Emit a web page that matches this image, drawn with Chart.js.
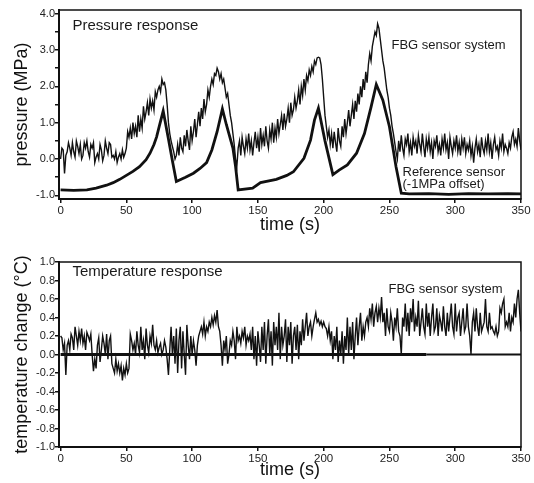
<!DOCTYPE html>
<html>
<head>
<meta charset="utf-8">
<script src="https://cdn.jsdelivr.net/npm/chart.js@4.4.1/dist/chart.umd.min.js"></script>
<style>
  body { margin: 0; background: #fff; }
  canvas { display: block; }
</style>
</head>
<body>
<canvas id="pressureChart" width="534" height="240"></canvas>
<canvas id="tempChart" width="534" height="243"></canvas>
<script>
// ---------------- data ----------------
// FBG samples are every 1 s from t = 0 to 350 s
const sampleStep = 1;
const timeTicks = [0, 50, 100, 150, 200, 250, 300, 350];

const fbgPressure = [
  0.0, 0.3, 0.25, -0.4, 0.1, 0.2, 0.45, 0.3, 0.1, 0.45,
  0.2, 0.05, 0.5, 0.35, 0.15, 0.4, 0.0, 0.1, 0.45, 0.3,
  0.5, 0.2, 0.05, 0.4, 0.3, 0.45, -0.1, 0.05, 0.15, 0.0,
  0.4, 0.25, -0.05, 0.1, 0.5, 0.3, 0.15, 0.45, 0.4, 0.05,
  0.1, 0.0, 0.2, -0.1, 0.05, 0.15, 0.0, 0.25, 0.05, 0.15,
  0.3, 0.75, 0.6, 0.85, 0.55, 1.0, 0.7, 0.9, 0.6, 1.2,
  0.75, 1.1, 0.85, 1.45, 1.1, 1.3, 1.55, 1.2, 1.65, 1.4,
  1.6, 1.35, 1.85, 1.7, 1.9, 2.0, 1.85, 2.2, 2.05, 2.1,
  1.9, 1.5, 1.0, 0.7, 0.5, 0.35, 0.2, 0.0, 0.1, 0.4,
  0.1, 0.6, 0.3, 0.2, 0.65, 0.35, 0.8, 0.5, 0.25, 0.9,
  0.5, 0.75, 1.1, 0.6, 0.95, 1.3, 0.9, 1.4, 1.1, 1.65,
  1.3, 1.5, 1.9, 1.7, 2.0, 2.2, 2.05, 2.35, 2.3, 2.5,
  2.4, 2.2, 2.35, 2.1, 2.2, 1.95, 1.7, 1.8, 1.5, 1.2,
  1.0, 0.7, 0.4, 0.0, -0.2, 0.3, 0.5, 0.1, 0.6, 0.35,
  0.15, 0.55, 0.3, 0.7, 0.25, 0.5, 0.1, 0.45, 0.75, 0.3,
  0.6, 0.2, 0.85, 0.4, 0.65, 0.35, 0.9, 0.5, 0.3, 0.8,
  0.55, 1.0, 0.45, 0.85, 0.6, 1.1, 0.7, 0.95, 1.2, 0.8,
  1.25, 0.9, 1.1, 1.4, 1.0, 1.55, 1.2, 1.35, 1.7, 1.4,
  1.6, 1.9, 1.5, 2.0, 1.75, 2.2, 1.9, 2.3, 2.15, 2.45,
  2.3, 2.55, 2.4, 2.7, 2.6, 2.78, 2.8, 2.78, 2.6, 2.2,
  1.7, 1.2, 0.9, 0.6, 0.8, 0.4, 0.7, 0.3, 0.75, 0.45,
  0.2, 0.85, 0.5, 0.35, 0.9, 0.6, 1.1, 0.7, 1.0, 1.35,
  0.9, 1.2, 1.5, 1.1, 1.6, 1.3, 1.8, 1.5, 2.0, 1.7,
  2.2, 1.9, 2.4, 2.1, 2.6, 2.9, 2.7, 3.1, 3.3, 3.5,
  3.4, 3.72, 3.6, 3.3, 3.0, 2.7, 2.5, 2.2, 1.9, 1.7,
  1.4, 1.2, 0.9, 0.7, 0.45, 0.2, 0.0, 0.5, 0.2, 0.65,
  0.3, 0.1, 0.55, 0.4, 0.7, 0.2, 0.45, 0.1, 0.6, 0.35,
  0.5, 0.15, 0.65, 0.4, 0.2, 0.7, 0.35, 0.05, 0.55, 0.3,
  0.6, 0.2, 0.45, 0.0, 0.5, 0.35, 0.65, 0.2, 0.4, 0.1,
  0.55, 0.3, 0.7, 0.25, 0.45, 0.0, 0.6, 0.35, 0.15, 0.5,
  0.3, 0.65, 0.2, 0.45, 0.1, 0.55, 0.3, 0.6, 0.15, 0.4,
  0.25, 0.5, 0.1, 0.35, -0.1, 0.3, 0.55, 0.2, 0.4, 0.05,
  0.6, 0.3, 0.15, 0.5, 0.25, 0.7, 0.2, 0.45, 0.0, 0.4,
  0.6, 0.25, 0.35, 0.1, 0.5, 0.3, 0.7, 0.2, 0.4, 0.3,
  0.15, 0.45, 0.3, 0.6, 0.75, 0.4, 0.55, 0.35, 0.85, 0.5,
  0.25
];

// reference sensor, drawn with a -1 MPa offset
const refPressureTime = [
  0, 10, 20, 27, 35, 40, 45, 50, 55, 60, 65, 68, 71, 73, 75, 78,
  82, 85, 88, 95, 101, 106, 111, 115, 119, 123, 126, 131, 133, 135,
  146, 152, 164, 172, 177, 185, 190, 193, 196, 201, 207, 212, 218,
  225, 231, 236, 240, 245, 250, 255, 259, 265, 280, 295, 310, 325, 340, 350
];
const refPressure = [
  -0.85, -0.86, -0.85, -0.80, -0.72, -0.65, -0.56, -0.45, -0.34, -0.21, -0.02, 0.16, 0.40, 0.61, 0.90, 1.32,
  0.55, -0.05, -0.62, -0.50, -0.39, -0.26, -0.10, 0.25, 0.75, 1.38, 0.95, 0.30, -0.20, -0.85,
  -0.80, -0.65, -0.56, -0.45, -0.35, 0.02, 0.52, 1.07, 1.40, 0.50, -0.43, -0.30, -0.16,
  0.16, 0.70, 1.43, 2.05, 1.62, 0.89, -0.21, -0.94, -0.96, -0.95, -0.97, -0.95, -0.96, -0.95, -0.96
];

const fbgTemperature = [
  0.2, 0.18, 0.05, 0.12, -0.22, 0.1, 0.15, 0.05, 0.22, 0.18,
  0.05, 0.3, 0.2, 0.1, 0.25, 0.15, 0.28, 0.12, 0.2, 0.05,
  0.24, 0.2, 0.15, 0.22, 0.0, -0.18, -0.05, -0.15, 0.1, 0.18,
  -0.08, 0.05, 0.2, 0.12, 0.0, 0.22, -0.05, 0.15, 0.2, -0.1,
  -0.15, -0.2, -0.05, -0.18, -0.1, -0.2, -0.12, -0.28, -0.15, -0.22,
  -0.1, -0.2, -0.15, 0.22, 0.15, 0.05, 0.12, 0.0, 0.25, 0.1,
  0.02, 0.3, 0.05, 0.15, -0.05, 0.28, 0.1, 0.02, 0.2, 0.12,
  0.32, 0.1, 0.05, 0.15, 0.02, 0.08, 0.12, 0.0, 0.05, 0.15,
  0.08, -0.05, -0.22, 0.05, 0.3, 0.0, 0.2, -0.1, 0.28, -0.2,
  0.15, 0.3, -0.15, 0.25, 0.0, -0.22, 0.32, 0.1, -0.05, 0.2,
  0.0, 0.15, 0.05, -0.12, 0.1, 0.2, 0.25, 0.3, 0.22, 0.35,
  0.2, 0.3, 0.25, 0.35, 0.3, 0.4, 0.32, 0.42, 0.35, 0.48,
  0.3, 0.25, 0.1, -0.12, 0.15, 0.05, 0.2, -0.1, 0.0, 0.15,
  0.1, 0.25, 0.15, -0.05, 0.3, 0.15, 0.2, 0.12, 0.25, 0.18,
  0.3, 0.1, 0.2, 0.15, 0.22, 0.05, 0.3, -0.05, 0.2, -0.12,
  0.25, 0.1, -0.08, 0.3, 0.05, 0.35, -0.1, 0.2, 0.38, 0.0,
  0.25, -0.12, 0.35, 0.1, 0.3, 0.05, 0.45, -0.05, 0.3, 0.1,
  0.2, 0.38, -0.08, 0.3, 0.1, 0.35, -0.1, 0.2, 0.3, 0.05,
  0.32, -0.05, 0.25, 0.1, 0.38, 0.15, 0.3, 0.45, 0.2, 0.3,
  0.35, 0.2, 0.3, 0.38, 0.45, 0.35, 0.38, 0.32, 0.36, 0.3,
  0.35, 0.3, 0.28, 0.2, 0.3, 0.15, 0.25, -0.05, 0.2, 0.05,
  0.3, -0.08, 0.15, 0.0, 0.25, -0.1, 0.2, 0.05, 0.4, 0.0,
  0.3, 0.05, 0.35, -0.05, 0.2, 0.4, 0.1, 0.3, 0.45, 0.15,
  0.3, 0.2, 0.35, 0.4, 0.3, 0.5, 0.38, 0.55, 0.3, 0.45,
  0.52, 0.35, 0.5, 0.4, 0.62, 0.35, 0.45, 0.2, 0.5, 0.3,
  0.25, 0.45, 0.35, 0.15, 0.4, 0.3, 0.5, 0.25, 0.2, 0.0,
  0.4, 0.3, 0.55, 0.25, 0.45, 0.2, 0.5, 0.35, 0.6, 0.25,
  0.4, 0.3, 0.58, 0.2, 0.35, 0.5, 0.3, 0.22, 0.55, 0.3,
  0.45, 0.2, 0.4, 0.55, 0.25, 0.3, 0.5, 0.2, 0.42, 0.35,
  0.25, 0.52, 0.3, 0.2, 0.45, 0.25, 0.4, 0.55, 0.3, 0.22,
  0.55, 0.25, 0.4, 0.45, 0.2, 0.35, 0.5, 0.25, 0.3, 0.55,
  0.3, 0.2, 0.0, 0.35, 0.45, 0.25, 0.5, 0.3, 0.2, 0.45,
  0.25, 0.3, 0.35, 0.6, 0.3, 0.25, 0.45, 0.28, 0.3, 0.25,
  0.22, 0.3, 0.2, 0.25, 0.5, 0.45, 0.55, 0.6, 0.3, 0.35,
  0.3, 0.45, 0.25, 0.4, 0.35, 0.55, 0.4, 0.6, 0.7, 0.45,
  0.25
];

// zero line of the temperature plot (heavier up to ~278 s)
const zeroLineTime = [0, 278, 350];
const zeroLineValue = [0, 0, 0];

// ---------------- helpers ----------------
const FONT = '"Liberation Sans", Arial, Helvetica, sans-serif';
const INK = '#111';

function toPoints(xs, ys) {
  return ys.map((y, i) => ({x: xs[i], y: y}));
}
function sampled(ys) {
  return ys.map((y, i) => ({x: i * sampleStep, y: y}));
}

// box around the plot area + the in-plot annotations
const frameAndNotes = {
  id: 'frameAndNotes',
  afterDatasetsDraw(chart, args, opts) {
    const {ctx, chartArea: a} = chart;
    ctx.save();
    ctx.strokeStyle = INK;
    ctx.lineWidth = 1.5;
    ctx.strokeRect(a.left, a.top, a.right - a.left, a.bottom - a.top);
    ctx.fillStyle = '#1a1a1a';
    ctx.textBaseline = 'middle';
    (opts.notes || []).forEach(n => {
      ctx.font = n.size + 'px ' + FONT;
      ctx.fillText(n.text, a.left + n.dx, a.top + n.dy);
    });
    ctx.restore();
  }
};

function xScale(bottomHeight, titlePad) {
  return {
    type: 'linear',
    min: -1.2,
    max: 350,
    afterBuildTicks(scale) { scale.ticks = timeTicks.map(v => ({value: v})); },
    ticks: {padding: 1, color: '#222', font: {family: FONT, size: 11.5}, maxRotation: 0},
    grid: {drawOnChartArea: false, tickLength: 4, color: INK, lineWidth: 1.5},
    border: {color: INK, width: 2},
    title: {display: true, text: 'time (s)', color: '#111', font: {family: FONT, size: 18}, padding: {top: 0, bottom: titlePad}},
    afterFit(scale) { scale.height = bottomHeight; }
  };
}

function yScale(min, max, step, label, labelFn) {
  return {
    min: min,
    max: max,
    ticks: {stepSize: step, includeBounds: false, padding: 0, color: '#222', font: {family: FONT, size: 11}, callback: labelFn},
    grid: {drawOnChartArea: false, tickLength: 4, color: INK, lineWidth: 1.5},
    border: {color: INK, width: 2},
    title: {display: true, text: label, color: '#111', font: {family: FONT, size: 18}, padding: {top: 11, bottom: 0}},
    afterFit(scale) { scale.width = 59; }
  };
}

// ---------------- pressure chart ----------------
new Chart(document.getElementById('pressureChart'), {
  type: 'line',
  data: {
    datasets: [
      {label: 'FBG sensor system', data: sampled(fbgPressure), borderColor: INK, borderWidth: 1.4, pointRadius: 0, tension: 0},
      {label: 'Reference sensor (-1MPa offset)', data: toPoints(refPressureTime, refPressure), borderColor: INK, borderWidth: 2.8, pointRadius: 0, tension: 0}
    ]
  },
  options: {
    responsive: false,
    animation: false,
    layout: {padding: {top: 10, right: 13, left: 0, bottom: 0}},
    plugins: {
      legend: {display: false},
      tooltip: {enabled: false},
      frameAndNotes: {
        notes: [
          {text: 'Pressure response', size: 15, dx: 13.5, dy: 16},
          {text: 'FBG sensor system', size: 13, dx: 332.5, dy: 35},
          {text: 'Reference sensor', size: 13, dx: 343.5, dy: 162},
          {text: '(-1MPa offset)', size: 13, dx: 343.5, dy: 174}
        ]
      }
    },
    scales: {
      x: xScale(41, 4),
      y: yScale(-1.1, 4.1, 0.5, 'pressure (MPa)', v => Number.isInteger(v) ? v.toFixed(1) : '')
    }
  },
  plugins: [frameAndNotes]
});

// ---------------- temperature chart ----------------
new Chart(document.getElementById('tempChart'), {
  type: 'line',
  data: {
    datasets: [
      {label: 'FBG sensor system', data: sampled(fbgTemperature), borderColor: INK, borderWidth: 1.4, pointRadius: 0, tension: 0, order: 2},
      {label: 'zero', data: toPoints(zeroLineTime.slice(0, 2), zeroLineValue.slice(0, 2)), borderColor: INK, borderWidth: 3, pointRadius: 0, order: 1},
      {label: 'zero tail', data: toPoints(zeroLineTime.slice(1), zeroLineValue.slice(1)), borderColor: INK, borderWidth: 2, pointRadius: 0, order: 1}
    ]
  },
  options: {
    responsive: false,
    animation: false,
    layout: {padding: {top: 22, right: 13, left: 0, bottom: 0}},
    plugins: {
      legend: {display: false},
      tooltip: {enabled: false},
      frameAndNotes: {
        notes: [
          {text: 'Temperature response', size: 15, dx: 13.5, dy: 10},
          {text: 'FBG sensor system', size: 13, dx: 329.5, dy: 27}
        ]
      }
    },
    scales: {
      x: xScale(36, 2),
      y: yScale(-1, 1, 0.2, 'temperature change (\u00B0C)', v => v.toFixed(1))
    }
  },
  plugins: [frameAndNotes]
});
</script>
</body>
</html>
